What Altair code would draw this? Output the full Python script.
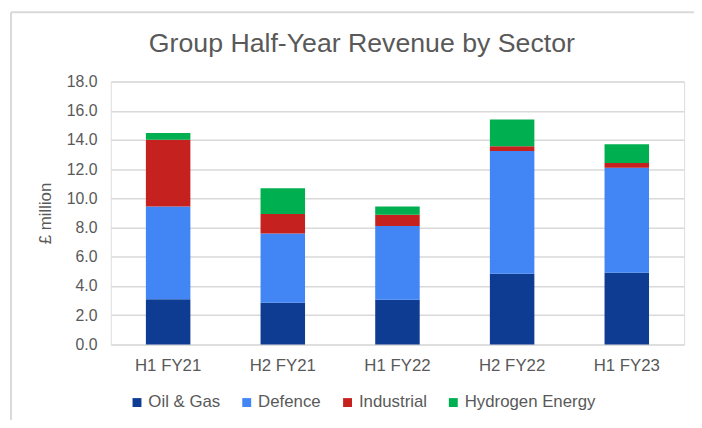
import altair as alt
import pandas as pd

periods = ["H1 FY21", "H2 FY21", "H1 FY22", "H2 FY22", "H1 FY23"]
sectors = ["Oil & Gas", "Defence", "Industrial", "Hydrogen Energy"]
oil_gas = [3.10, 2.86, 3.06, 4.84, 4.91]
defence = [6.34, 4.73, 5.05, 8.41, 7.19]
industrial = [4.58, 1.35, 0.77, 0.32, 0.32]
hydrogen = [0.45, 1.76, 0.56, 1.84, 1.28]
colors = ["#0D3C92", "#4285F4", "#C5221F", "#00B050"]
title_text = "Group Half-Year Revenue by Sector"
y_title = "£ million"

series = [oil_gas, defence, industrial, hydrogen]
rows = []
for si, (name, vals) in enumerate(zip(sectors, series)):
    for p, v in zip(periods, vals):
        rows.append({"period": p, "sector": name, "value": v, "idx": si})
df = pd.DataFrame(rows)

FONT = "Liberation Sans"
GRAY = "#595959"
GRID = "#D9D9D9"

bars = alt.Chart(df).mark_bar().encode(
    x=alt.X("period:N", sort=periods,
            scale=alt.Scale(paddingInner=0.612, paddingOuter=0.306),
            axis=alt.Axis(title=None, labelAngle=0, labelFontSize=17, labelColor=GRAY,
                          labelFont=FONT, ticks=False, domain=False, labelPadding=13)),
    y=alt.Y("value:Q", stack="zero",
            scale=alt.Scale(domain=[0, 18], nice=False),
            axis=alt.Axis(title=y_title, values=list(range(0, 19, 2)), format=".1f",
                          labelFontSize=16, labelColor=GRAY, labelFont=FONT,
                          ticks=False, domain=False, labelPadding=14,
                          grid=True, gridColor=GRID, gridWidth=1.5,
                          titleFontSize=17, titleColor=GRAY, titleFont=FONT,
                          titleFontWeight="normal", titleX=-66, titleY=133,
                          titleAngle=-90, titleAlign="center", titleBaseline="middle")),
    color=alt.Color("sector:N", sort=sectors,
                    scale=alt.Scale(domain=sectors, range=colors),
                    legend=alt.Legend(title=None, orient="none", direction="horizontal",
                                      legendX=18, legendY=316, symbolType="square",
                                      symbolSize=81, symbolStrokeWidth=0,
                                      labelFontSize=17, labelColor=GRAY, labelFont=FONT,
                                      labelOffset=3, columnPadding=18, padding=0)),
    order=alt.Order("idx:Q", sort="ascending"),
)

one = pd.DataFrame({"a": [0]})
border_left = alt.Chart(one).mark_rule(color=GRID, strokeWidth=2).encode(
    x=alt.value(-101), y=alt.value(-70), y2=alt.value(400))
border_top = alt.Chart(one).mark_rule(color=GRID, strokeWidth=2).encode(
    x=alt.value(-101), x2=alt.value(700), y=alt.value(-70))
title_df = pd.DataFrame({"t": [title_text]})
title = alt.Chart(title_df).mark_text(
    fontSize=27, color=GRAY, font=FONT, align="center", baseline="middle"
).encode(text="t:N", x=alt.value(254), y=alt.value(-38))

chart = alt.layer(border_left, border_top, title, bars).properties(
    width=580, height=266,
    padding={"left": 104, "top": 72, "right": 10, "bottom": 74},
    autosize=alt.AutoSizeParams(type="none"),
).configure_view(stroke=None).configure(background="white")

chart.save("out.html", embed_options={"renderer": "svg", "actions": False})
